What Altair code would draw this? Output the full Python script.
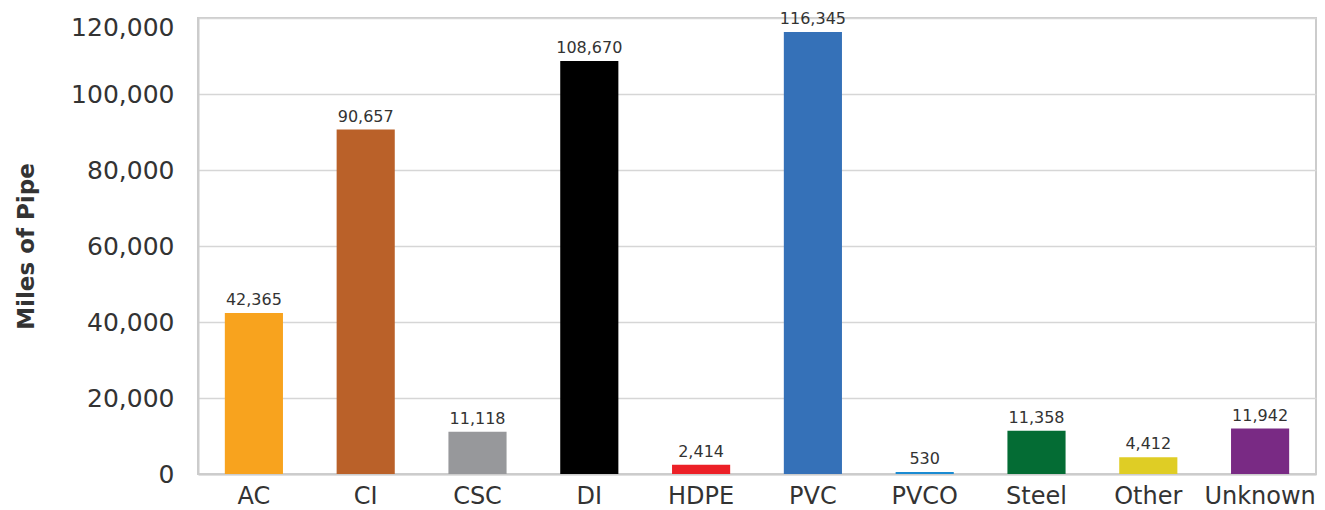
import altair as alt
import pandas as pd

materials = ["AC", "CI", "CSC", "DI", "HDPE", "PVC", "PVCO", "Steel", "Other", "Unknown"]
miles = [42365, 90657, 11118, 108670, 2414, 116345, 530, 11358, 4412, 11942]
colors = ["#F8A31E", "#BA6129", "#97989B", "#000000", "#EC2027", "#3571B8",
          "#1A8BD2", "#046C34", "#DFCD25", "#792A84"]
y_ticks = [0, 20000, 40000, 60000, 80000, 100000, 120000]

df = pd.DataFrame({"material": materials, "miles": miles, "color": colors})

FONT = "DejaVu Sans"

base = alt.Chart(df).encode(
    x=alt.X("material:N", sort=materials,
            scale=alt.Scale(paddingInner=0.48, paddingOuter=0.24),
            axis=alt.Axis(title=None, labelAngle=0, labelFontSize=24, labelColor="#333333",
                          labelFont=FONT, labelPadding=10, ticks=False,
                          domainColor="#cccccc", domainWidth=2, grid=False)),
    y=alt.Y("miles:Q", scale=alt.Scale(domain=[0, 120000], nice=False),
            axis=alt.Axis(title="Miles of Pipe", values=y_ticks,
                          format=",.0f", labelFontSize=25, labelColor="#333333", labelFont=FONT,
                          labelOffset={"condition": {"test": "datum.value == 120000", "value": 9}, "value": 0},
                          labelPadding=24, ticks=False, titleFontSize=23, titleFont=FONT,
                          titleFontWeight="bold", titleColor="#333333", titlePadding=32,
                          domainColor="#cccccc", domainWidth=2,
                          gridColor="#d6d6d6", gridWidth=1.5)),
)

bars = base.mark_bar().encode(color=alt.Color("color:N", scale=None))
text = base.mark_text(dy=-8, fontSize=16, font=FONT, color="#333333", baseline="alphabetic").encode(
    text=alt.Text("miles:Q", format=",.0f"), y=alt.Y("miles:Q")
)

chart = (bars + text).properties(
    width=1118, height=456,
    autosize=alt.AutoSizeParams(type="none"),
    padding={"left": 190, "top": 10, "right": 1, "bottom": 36},
).configure_view(stroke="#cccccc", strokeWidth=2)

chart.save("out.html", embed_options={"renderer": "svg", "actions": False})
